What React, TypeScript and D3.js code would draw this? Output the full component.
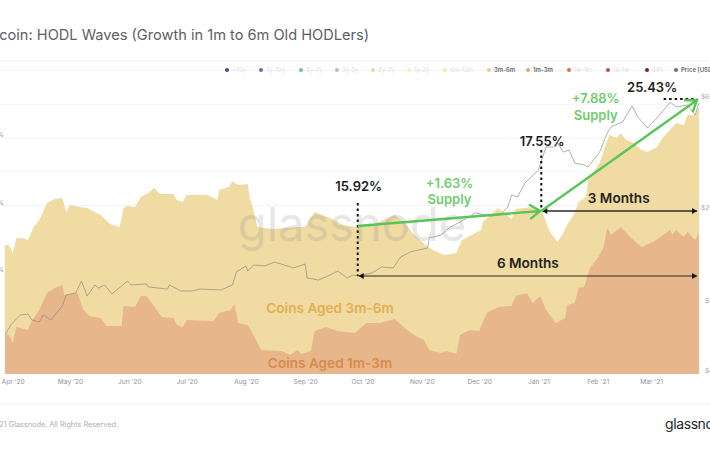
import { useEffect, useRef } from 'react';
import * as d3 from 'd3';

// days counted from the first date on the chart
const startDate = new Date(2020, 2, 28);
const endDate = new Date(2021, 2, 26);

// top edge of the 1m-3m band, % of supply
const band1m3mDays = [0, 2, 4, 6, 12, 14, 18, 22, 26, 30, 31, 38, 41, 44, 50, 53, 61, 62, 68, 71, 74, 78, 82, 88, 90, 93, 95, 109, 112, 118, 120, 122, 127, 130, 134, 145, 149, 153, 155, 160, 162, 168, 174, 183, 189, 196, 204, 209, 214, 219, 222, 228, 231, 236, 238, 243, 248, 252, 258, 265, 267, 273, 276, 280, 283, 288, 293, 294, 298, 300, 303, 306, 310, 313, 315, 317, 322, 327, 333, 339, 348, 349, 351, 355, 357, 361, 363];
const band1m3m = [3.9, 3.9, 3.1, 4.7, 4.4, 5.3, 6.4, 8.1, 8.6, 8.9, 7.9, 8.1, 6.4, 5.8, 5.6, 4.8, 4.8, 6.8, 6.7, 7.8, 7.8, 6.8, 5.7, 5.6, 4.9, 4.7, 5.4, 5.3, 6.1, 6.4, 7.0, 5.1, 4.9, 3.9, 2.4, 2.3, 1.9, 2.4, 2.0, 2.3, 4.3, 4.7, 4.3, 4.1, 5.1, 5.1, 5.5, 4.6, 3.9, 3.4, 2.4, 2.1, 2.3, 2.0, 3.9, 4.4, 4.3, 6.1, 6.7, 6.8, 7.8, 8.1, 7.1, 7.8, 6.4, 5.1, 5.6, 6.9, 7.1, 8.6, 8.7, 10.6, 11.6, 12.6, 14.6, 13.9, 14.7, 13.7, 12.7, 13.2, 14.4, 13.9, 14.4, 13.7, 14.2, 13.4, 14.1];

// top edge of the stacked 3m-6m band, % of supply
const band3m6mDays = [0, 2, 4, 6, 9, 12, 15, 18, 22, 26, 30, 32, 34, 39, 43, 50, 55, 60, 62, 64, 68, 71, 75, 78, 81, 88, 90, 93, 95, 106, 111, 112, 117, 119, 122, 127, 128, 130, 132, 140, 147, 153, 157, 162, 170, 177, 184, 192, 204, 211, 213, 221, 226, 230, 236, 239, 249, 250, 258, 265, 267, 276, 281, 285, 289, 292, 294, 298, 300, 304, 305, 311, 316, 320, 322, 325, 328, 333, 336, 341, 344, 351, 355, 357, 361, 363];
const band3m6m = [12.9, 12.9, 12.1, 13.6, 13.6, 13.4, 14.7, 15.4, 17.1, 17.5, 17.6, 16.2, 16.9, 16.7, 16.6, 15.9, 15.0, 14.7, 16.6, 16.8, 16.7, 17.7, 18.1, 18.6, 18.0, 18.0, 17.4, 17.2, 17.9, 17.9, 17.4, 18.4, 18.7, 19.3, 18.9, 19.0, 17.7, 16.4, 14.7, 14.5, 14.6, 14.7, 14.7, 16.2, 15.6, 14.9, 14.7, 14.9, 15.9, 14.7, 14.1, 12.7, 12.2, 11.9, 12.1, 13.4, 14.4, 15.2, 16.6, 15.5, 16.5, 16.7, 16.2, 14.2, 13.2, 14.1, 14.9, 16.1, 17.2, 17.7, 19.4, 21.1, 23.9, 23.6, 24.1, 23.4, 23.2, 22.4, 22.2, 22.7, 23.6, 25.1, 24.9, 25.9, 25.9, 26.7];

const priceDays = [0, 3, 8, 12, 14, 18, 20, 24, 30, 32, 37, 40, 43, 47, 49, 52, 56, 61, 64, 66, 74, 75, 85, 86, 92, 98, 102, 113, 119, 121, 126, 127, 130, 136, 141, 151, 157, 158, 164, 169, 174, 179, 182, 184, 192, 197, 203, 207, 212, 221, 222, 228, 233, 238, 246, 254, 259, 263, 265, 268, 272, 279, 283, 288, 289, 292, 295, 298, 303, 305, 311, 315, 317, 323, 328, 331, 336, 341, 348, 351, 357, 361, 363];
const priceUsd = [5690, 6280, 6930, 7000, 6600, 6470, 6930, 6600, 7580, 8450, 8620, 9700, 8360, 9330, 9050, 9330, 8540, 9240, 9700, 9330, 9420, 9150, 8960, 9330, 8790, 8790, 8960, 8880, 9330, 10610, 11260, 10710, 11370, 11260, 11710, 11040, 11490, 10000, 9800, 10200, 10710, 10000, 10300, 10200, 10500, 11150, 11040, 12310, 12930, 13460, 14860, 15300, 16570, 17400, 19030, 18470, 18660, 20200, 22740, 22300, 25620, 29120, 36580, 36580, 38060, 34770, 35500, 31200, 30600, 30000, 34770, 42000, 44580, 46840, 54900, 49240, 44150, 48750, 57100, 54350, 55450, 50200, 56500];

const legendNames = ['>10y', '7y-10y', '5y-7y', '3y-5y', '2y-3y', '1y-2y', '6m-12m', '3m-6m', '1m-3m', '1w-1m', '1d-1w', '24h', 'Price [USD]'];
const legendDots = ['#4a4590', '#5a72ac', '#7bb8a6', '#a3ccA3', '#d3e3a2', '#f6f4b4', '#f8e8a8', '#edcd7d', '#e5a767', '#d9734f', '#b84a62', '#7a1f4a', '#707070'];
const legendActive = ['3m-6m', '1m-3m', 'Price [USD]'];
const legendX = [227, 261, 301, 337, 373, 409, 445, 489, 528, 569, 608, 647, 676];

const shareTicks = [80, 70, 60, 50, 40];
const shareLabels = [60, 40, 20];
const priceTicks = [60000, 20000, 8000, 4000];

// annotation anchors, in days and % of supply
const dayOct = 184.5;
const dayJan = 280.5;
const dayEnd = 362;
const levelOct = 14.8;
const levelJan = 16.3;
const levelEnd = 27.4;
const levelSixMonths = 9.8;

export default function App() {
  const svgRef = useRef<SVGSVGElement>(null);

  useEffect(() => {
    if (!svgRef.current) return;
    const svg = d3.select(svgRef.current);
    svg.selectAll('*').remove();

    const font = 'Inter, sans-serif';
    const x = d3.scaleTime().domain([startDate, endDate]).range([5, 699]);
    const xDay = (d: number) => x(d3.timeDay.offset(startDate, Math.floor(d))) + (d % 1) * 1.91;
    const y = d3.scaleLinear().domain([0, 30]).range([374, 74]);
    const yShare = d3.scaleLinear().domain([20, 60]).range([273, 138]);
    const yPrice = d3.scaleLog().domain([4000, 60000]).range([370.5, 97]);

    // Frame and grid
    svg.append('g')
      .selectAll('line')
      .data(shareTicks)
      .join('line')
      .attr('x1', 0)
      .attr('x2', 699)
      .attr('y1', d => yShare(d))
      .attr('y2', d => yShare(d))
      .attr('stroke', '#f3f4f5');
    [61, 404].forEach(py => {
      svg.append('line').attr('x1', 0).attr('x2', 710).attr('y1', py).attr('y2', py).attr('stroke', '#f0f0f0');
    });

    // Title
    svg.append('text')
      .attr('x', 369)
      .attr('y', 40)
      .attr('text-anchor', 'end')
      .attr('fill', '#5b6068')
      .attr('font-family', font)
      .attr('font-size', 14.6)
      .text('Bitcoin: HODL Waves (Growth in 1m to 6m Old HODLers)');

    // Legend
    const legend = svg.append('g').attr('font-family', font).attr('font-size', 6);
    legendNames.forEach((name, i) => {
      const active = legendActive.includes(name);
      legend.append('circle').attr('cx', legendX[i]).attr('cy', 70).attr('r', 2).attr('fill', legendDots[i]);
      legend.append('text')
        .attr('x', legendX[i] + 5)
        .attr('y', 72.2)
        .attr('fill', active ? '#66696d' : '#dfe1e3')
        .attr('font-weight', active ? 600 : 400)
        .text(name);
    });

    // Bands
    const area = d3.area<[number, number]>()
      .x(d => xDay(d[0]))
      .y0(y(0))
      .y1(d => y(d[1]));

    svg.append('path')
      .datum(band3m6mDays.map((d, i) => [d, band3m6m[i]] as [number, number]))
      .attr('fill', '#f0dba3')
      .attr('d', area);

    svg.append('path')
      .datum(band1m3mDays.map((d, i) => [d, band1m3m[i]] as [number, number]))
      .attr('fill', '#e7b78b')
      .attr('d', area);

    // Watermark
    svg.append('text')
      .attr('x', 352)
      .attr('y', 241)
      .attr('text-anchor', 'middle')
      .attr('fill', '#8a8a8a')
      .attr('opacity', 0.2)
      .attr('font-family', font)
      .attr('font-size', 47)
      .text('glassnode');

    // Price
    const priceLine = d3.line<number>()
      .x((_, i) => xDay(priceDays[i]))
      .y(d => yPrice(d));

    svg.append('path')
      .datum(priceUsd)
      .attr('fill', 'none')
      .attr('stroke', '#84847a')
      .attr('stroke-width', 0.8)
      .attr('opacity', 0.8)
      .attr('d', priceLine);

    // Axes
    const xAxis = svg.append('g')
      .attr('transform', `translate(0,${y(0)})`)
      .call(d3.axisBottom(x)
        .ticks(d3.timeMonth.every(1)!)
        .tickSize(0)
        .tickPadding(5)
        .tickFormat(d => d3.timeFormat("%b '%y")(d as Date)));
    xAxis.select('.domain').remove();
    xAxis.selectAll('text')
      .attr('fill', '#8d929a')
      .attr('font-family', font)
      .attr('font-size', 6.6);

    svg.append('g')
      .selectAll('text')
      .data(shareLabels)
      .join('text')
      .attr('x', 4)
      .attr('y', d => yShare(d) - 1)
      .attr('text-anchor', 'end')
      .attr('fill', '#8d929a')
      .attr('font-family', font)
      .attr('font-size', 6.6)
      .text(d => `${d}%`);

    svg.append('g')
      .selectAll('text')
      .data(priceTicks)
      .join('text')
      .attr('x', 717)
      .attr('y', d => yPrice(d) + 2.3)
      .attr('text-anchor', 'end')
      .attr('fill', '#a4a7ab')
      .attr('font-family', font)
      .attr('font-size', 6.6)
      .text(d => `$${d / 1000}k`);

    // Dotted markers
    const dotted = (x1: number, y1: number, x2: number, y2: number) =>
      svg.append('line')
        .attr('x1', x1).attr('y1', y1).attr('x2', x2).attr('y2', y2)
        .attr('stroke', '#111')
        .attr('stroke-width', 2)
        .attr('stroke-dasharray', '2.5,3');
    dotted(xDay(dayOct), y(17.1), xDay(dayOct), y(levelSixMonths));
    dotted(xDay(dayJan), y(22.4), xDay(dayJan), y(levelJan));
    dotted(xDay(344.5), y(27.5), xDay(dayEnd), y(27.5));

    // Span arrows
    const span = (d0: number, d1: number, level: number, w: number) => {
      const py = y(level);
      const a = xDay(d0) + 1;
      const b = xDay(d1);
      svg.append('line').attr('x1', a).attr('x2', b).attr('y1', py).attr('y2', py)
        .attr('stroke', '#2b2a22').attr('stroke-width', w);
      svg.append('path').attr('fill', '#111').attr('d', `M${a},${py}l5,-3v6z`);
      svg.append('path').attr('fill', '#111').attr('d', `M${b},${py}l-5,-3v6z`);
    };
    span(dayJan, dayEnd, levelJan, 1.3);
    span(dayOct, dayEnd, levelSixMonths, 1.1);

    // Green trend arrows
    const trend = (d0: number, l0: number, d1: number, l1: number) => {
      const [ax, ay, bx, by] = [xDay(d0), y(l0), xDay(d1), y(l1)];
      const angle = Math.atan2(by - ay, bx - ax);
      const size = 13;
      const head = [-0.6, 0.6].map(t => [bx - size * Math.cos(angle + t), by - size * Math.sin(angle + t)]);
      svg.append('path')
        .attr('fill', 'none')
        .attr('stroke', '#58c558')
        .attr('stroke-width', 2.3)
        .attr('d', `M${ax},${ay}L${bx},${by}M${head[0]}L${bx},${by}L${head[1]}`);
    };
    trend(dayOct, levelOct, dayJan - 0.5, levelJan);
    trend(dayJan, levelJan, dayEnd, levelEnd);

    // Labels
    const label = (day: number, level: number, text: string, fill: string, size = 13.6) =>
      svg.append('text')
        .attr('x', xDay(day))
        .attr('y', y(level))
        .attr('text-anchor', 'middle')
        .attr('dominant-baseline', 'central')
        .attr('fill', fill)
        .attr('font-family', font)
        .attr('font-weight', 600)
        .attr('font-size', size)
        .text(text);

    label(185, 18.8, '15.92%', '#1c1c1c', 13);
    label(281, 23.3, '17.55%', '#1c1c1c', 13);
    label(338.5, 28.7, '25.43%', '#1c1c1c', 13);
    label(232.5, 19.1, '+1.63%', '#70cc6e', 13);
    label(232.5, 17.5, 'Supply', '#70cc6e', 13);
    label(309, 27.6, '+7.88%', '#70cc6e', 13);
    label(309, 25.9, 'Supply', '#70cc6e', 13);
    label(321, 17.6, '3 Months', '#24231c');
    label(273.5, 11.1, '6 Months', '#24231c');
    label(170, 6.6, 'Coins Aged 3m-6m', '#e0b150');
    label(170, 1.1, 'Coins Aged 1m-3m', '#d98a4e');

    // Footer
    svg.append('text')
      .attr('x', 118)
      .attr('y', 426.5)
      .attr('text-anchor', 'end')
      .attr('fill', '#a9adb1')
      .attr('font-family', font)
      .attr('font-size', 7.3)
      .text('© 2021 Glassnode. All Rights Reserved.');

    svg.append('text')
      .attr('x', 665)
      .attr('y', 429)
      .attr('fill', '#23262b')
      .attr('font-family', font)
      .attr('font-size', 14)
      .attr('letter-spacing', -0.4)
      .text('glassnode');
  }, []);

  return (
    <svg
      ref={svgRef}
      width={710}
      height={458}
      style={{ position: 'absolute', left: 0, top: 0, background: '#fff' }}
    />
  );
}
